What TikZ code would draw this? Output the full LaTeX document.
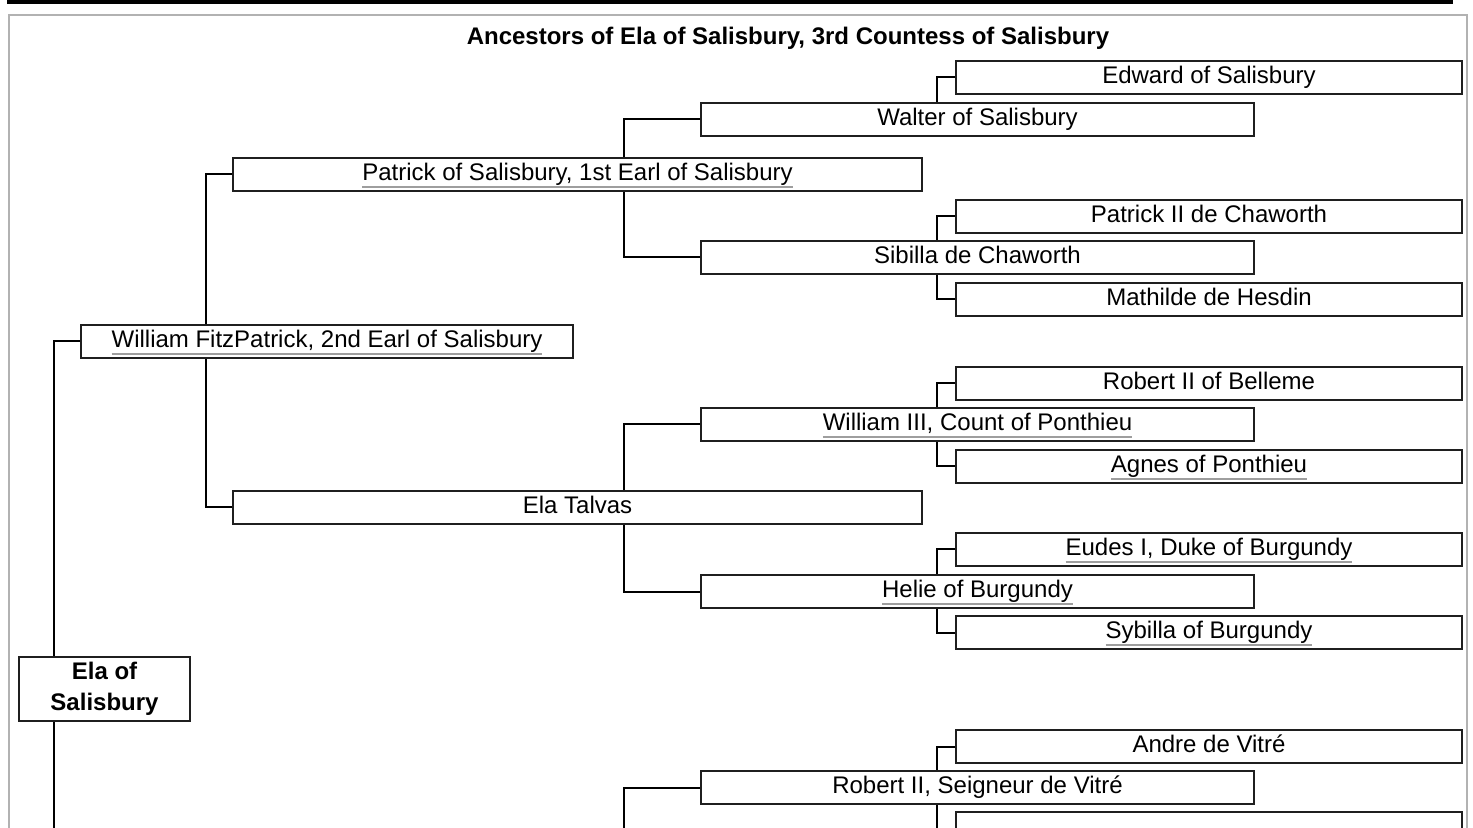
\documentclass[tikz,border=0pt]{standalone}
\usepackage{fontspec}
\setmainfont{Liberation Sans}
\usepackage{tikz}
\usetikzlibrary{positioning}

% grey underline for linked names
\newcommand{\lnk}[1]{\setbox0\hbox{#1}\rlap{\color{black!38}\rule[-3.6pt]{\wd0}{1pt}}\box0}

\begin{document}
\begin{tikzpicture}[
		x=0.5pt, y=-0.5pt,
		person/.style={draw=black!88, line width=1pt, fill=white, inner sep=0pt, anchor=north west,
			minimum height=16.5pt, text height=9pt, text depth=2.6pt, font=\fontsize{12}{14}\selectfont},
		gen1/.style={person, minimum width=246pt},
		gen2/.style={person, minimum width=344.5pt},
		gen3/.style={person, minimum width=276.5pt},
		gen4/.style={person, minimum width=253pt},
		root/.style={draw=black!88, line width=1pt, fill=white, inner sep=0pt, anchor=north west,
			minimum width=85.5pt, minimum height=32pt, align=center, font=\bfseries\fontsize{12}{15.5}\selectfont},
		link/.style={line width=1pt}
		]
		\useasboundingbox (0,0) rectangle (1473,828);
		\clip (0,0) rectangle (1473,828);
		
		% Frame
		\fill[black] (7,0) rectangle (1453,4);
		\draw[black!30, line width=1pt] (9,15) rectangle (1467,900);
		\node[font=\bfseries\fontsize{12}{14}\selectfont] (title) at (788,38) {Ancestors of Ela of Salisbury, 3rd Countess of Salisbury};
		
		% Branch columns
		\coordinate (k1) at (54,0);
		\coordinate (k2) at (206,0);
		\coordinate (k3) at (624,0);
		\coordinate (k4) at (937,0);
		\coordinate (cut) at (0,860);
		
		% Persons
		\node[root] (ela) at (18,656) {Ela of\\Salisbury};
		\node[gen1] (wil) at (80,324) {\lnk{William FitzPatrick, 2nd Earl of Salisbury}};
		\node[gen2] (pat) at (232,157) {\lnk{Patrick of Salisbury, 1st Earl of Salisbury}};
		\node[gen2] (talvas) at (232,490) {Ela Talvas};
		\node[gen3] (walter) at (700,102) {Walter of Salisbury};
		\node[gen3] (sibilla) at (700,240) {Sibilla de Chaworth};
		\node[gen3] (wiliii) at (700,407) {\lnk{William III, Count of Ponthieu}};
		\node[gen3] (helie) at (700,574) {\lnk{Helie of Burgundy}};
		\node[gen3] (vitre) at (700,770) {Robert II, Seigneur de Vitré};
		\node[gen4] (edward) at (955,60) {Edward of Salisbury};
		\node[gen4] (chaworth) at (955,199) {Patrick II de Chaworth};
		\node[gen4] (hesdin) at (955,282) {Mathilde de Hesdin};
		\node[gen4] (belleme) at (955,366) {Robert II of Belleme};
		\node[gen4] (agnes) at (955,449) {\lnk{Agnes of Ponthieu}};
		\node[gen4] (eudes) at (955,532) {\lnk{Eudes I, Duke of Burgundy}};
		\node[gen4] (sybilla) at (955,615) {\lnk{Sybilla of Burgundy}};
		\node[gen4] (andre) at (955,729) {Andre de Vitré};
		\node[gen4] (nextone) at (955,811) {}; % cut off by the page edge
		
		% Links
		\draw[link] (wil.west) -| (k1 |- ela.north);
		\draw[link] (k1 |- ela.south) -- (k1 |- cut);
		\draw[link] (pat.west) -| (k2 |- wil.north);
		\draw[link] (talvas.west) -| (k2 |- wil.south);
		\draw[link] (walter.west) -| (k3 |- pat.north);
		\draw[link] (sibilla.west) -| (k3 |- pat.south);
		\draw[link] (wiliii.west) -| (k3 |- talvas.north);
		\draw[link] (helie.west) -| (k3 |- talvas.south);
		\draw[link] (vitre.west) -| (k3 |- cut);
		\draw[link] (edward.west) -| (k4 |- walter.north);
		\draw[link] (chaworth.west) -| (k4 |- sibilla.north);
		\draw[link] (hesdin.west) -| (k4 |- sibilla.south);
		\draw[link] (belleme.west) -| (k4 |- wiliii.north);
		\draw[link] (agnes.west) -| (k4 |- wiliii.south);
		\draw[link] (eudes.west) -| (k4 |- helie.north);
		\draw[link] (sybilla.west) -| (k4 |- helie.south);
		\draw[link] (andre.west) -| (k4 |- vitre.north);
		\draw[link] (nextone.west) -| (k4 |- vitre.south);
		
	\end{tikzpicture}
\end{document}
